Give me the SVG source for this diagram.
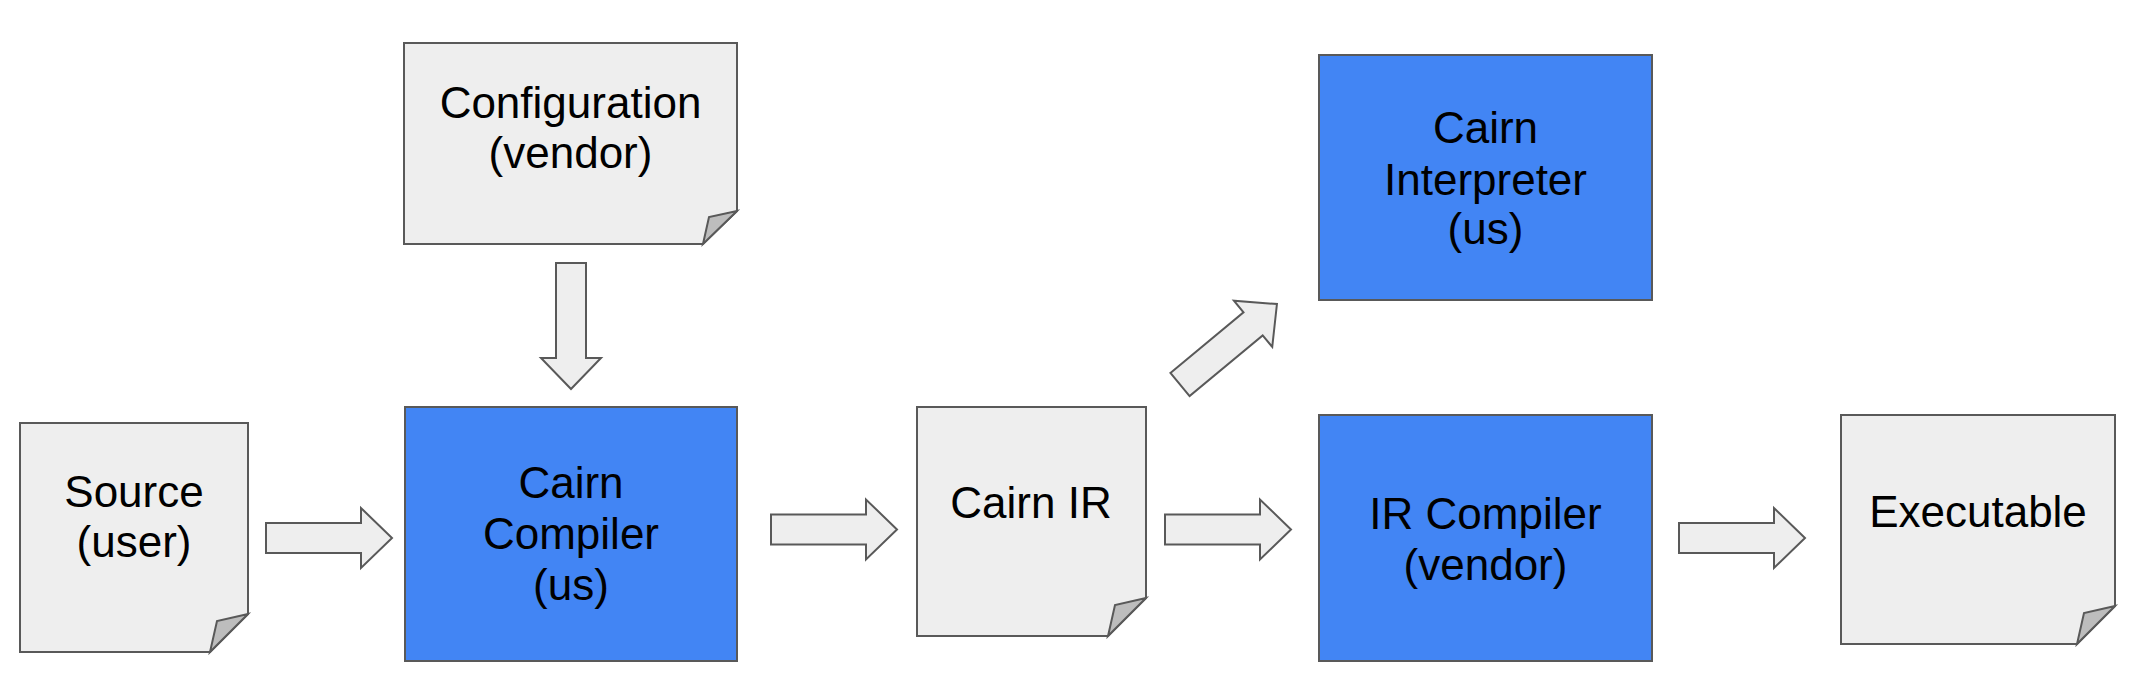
<svg xmlns="http://www.w3.org/2000/svg" width="2149" height="693" viewBox="0 0 2149 693">
<style>
.doc{fill:#eeeeee;stroke:#595959;stroke-width:2;stroke-linejoin:miter}
.fold{fill:#bdbdbd;stroke:#595959;stroke-width:2;stroke-linejoin:miter}
.proc{fill:#4285f4;stroke:#595959;stroke-width:2}
.arrow{fill:#eeeeee;stroke:#595959;stroke-width:2;stroke-linejoin:miter}
text{font-family:"Liberation Sans",Arial,sans-serif;font-size:44px;fill:#000000;text-anchor:middle}
</style>
<defs>
<path id="arr" d="M0,-15 H95 V-30 L126,0 L95,30 V15 H0 Z"/>
</defs>
<rect width="2149" height="693" fill="#ffffff"/>
<g id="connectors">
<use href="#arr" class="arrow" transform="translate(266,538)"/>
<use href="#arr" class="arrow" transform="translate(571,263) rotate(90)"/>
<use href="#arr" class="arrow" transform="translate(771,529.5)"/>
<use href="#arr" class="arrow" transform="translate(1165,529.5)"/>
<use href="#arr" class="arrow" transform="translate(1180,384.5) rotate(-39.7)"/>
<use href="#arr" class="arrow" transform="translate(1679,538)"/>
</g>
<g id="source">
<path class="doc" d="M20,423 H248 V614 L210,652 H20 Z"/>
<path class="fold" d="M248,614 L217,621 L210,652 Z"/>
<text x="134" y="507">Source</text>
<text x="134" y="557">(user)</text>
</g>
<g id="configuration">
<path class="doc" d="M404,43 H737 V211 L703,244 H404 Z"/>
<path class="fold" d="M737,211 L709,217 L703,244 Z"/>
<text x="570.5" y="118">Configuration</text>
<text x="570.5" y="168">(vendor)</text>
</g>
<g id="cairn-compiler">
<rect class="proc" x="405" y="407" width="332" height="254"/>
<text x="571" y="498">Cairn</text>
<text x="571" y="549">Compiler</text>
<text x="571" y="600">(us)</text>
</g>
<g id="cairn-ir">
<path class="doc" d="M917,407 H1146 V598 L1108,636 H917 Z"/>
<path class="fold" d="M1146,598 L1115,605 L1108,636 Z"/>
<text x="1031" y="518">Cairn IR</text>
</g>
<g id="cairn-interpreter">
<rect class="proc" x="1319" y="55" width="333" height="245"/>
<text x="1485.5" y="143">Cairn</text>
<text x="1485.5" y="195">Interpreter</text>
<text x="1485.5" y="244">(us)</text>
</g>
<g id="ir-compiler">
<rect class="proc" x="1319" y="415" width="333" height="246"/>
<text x="1485.5" y="529">IR Compiler</text>
<text x="1485.5" y="580">(vendor)</text>
</g>
<g id="executable">
<path class="doc" d="M1841,415 H2115 V606 L2077,644 H1841 Z"/>
<path class="fold" d="M2115,606 L2084,613 L2077,644 Z"/>
<text x="1978" y="527">Executable</text>
</g>
</svg>
